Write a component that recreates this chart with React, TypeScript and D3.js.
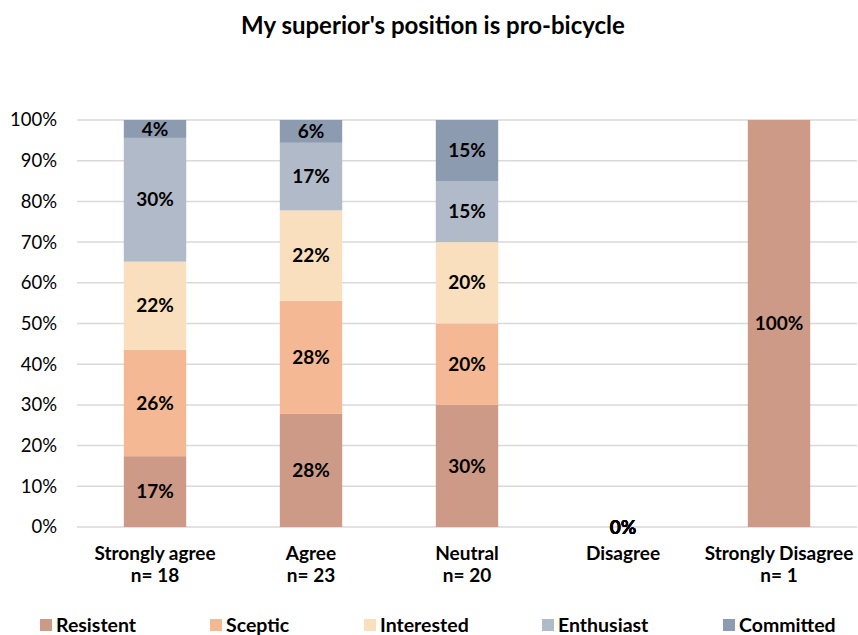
import { useEffect, useRef } from "react";
import * as d3 from "d3";

const categories = ["Strongly agree", "Agree", "Neutral", "Disagree", "Strongly Disagree"];
const counts = ["n= 18", "n= 23", "n= 20", "", "n= 1"];
const seriesNames = ["Resistent", "Sceptic", "Interested", "Enthusiast", "Committed"];
const colors = ["#CD9A87", "#F4B994", "#F9DFBE", "#B1BAC8", "#8D9BB1"];

// share per category (fraction 0..1), one array per series
const resistent = [0.174, 0.278, 0.3, 0, 1];
const sceptic = [0.261, 0.278, 0.2, 0, 0];
const interested = [0.217, 0.222, 0.2, 0, 0];
const enthusiast = [0.304, 0.166, 0.15, 0, 0];
const committed = [0.044, 0.056, 0.15, 0, 0];
const yTicks = [0, 0.1, 0.2, 0.3, 0.4, 0.5, 0.6, 0.7, 0.8, 0.9, 1];

const FONT = "Lato, 'Open Sans', sans-serif";

const App = () => {
  const svgRef = useRef<SVGSVGElement | null>(null);

  useEffect(() => {
    const w = 858;
    const h = 635;
    const m = { top: 120, right: 1, bottom: 108, left: 77 };

    const svg = d3.select(svgRef.current).attr("width", w).attr("height", h);
    svg.selectAll("*").remove();

    const rows = categories.map((c, i) => ({
      cat: c,
      Resistent: resistent[i],
      Sceptic: sceptic[i],
      Interested: interested[i],
      Enthusiast: enthusiast[i],
      Committed: committed[i],
    }));
    const stacked = d3.stack<any>().keys(seriesNames)(rows);

    const x = d3
      .scaleBand()
      .domain(categories)
      .range([m.left, w - m.right])
      .paddingInner(0.6)
      .paddingOuter(0.3);
    const y = d3.scaleLinear().domain([0, 1]).range([h - m.bottom, m.top]);

    // title
    svg
      .append("text")
      .attr("x", 433)
      .attr("y", 34)
      .attr("text-anchor", "middle")
      .style("font-family", FONT)
      .style("font-weight", "bold")
      .style("font-size", "24px")
      .text("My superior's position is pro-bicycle");

    // grid + y labels
    const grid = svg.append("g");
    grid
      .selectAll("line")
      .data(yTicks)
      .join("line")
      .attr("x1", m.left)
      .attr("x2", w - m.right)
      .attr("y1", (d) => y(d))
      .attr("y2", (d) => y(d))
      .attr("stroke", "#D9D9D9")
      .attr("stroke-width", 1.5);
    grid
      .selectAll("text")
      .data(yTicks)
      .join("text")
      .attr("x", 57)
      .attr("y", (d) => y(d))
      .attr("dy", "0.35em")
      .attr("text-anchor", "end")
      .style("font-family", FONT)
      .style("font-size", "18.5px")
      .attr("fill", "#000")
      .text((d) => d3.format(".0%")(d));

    // bars
    svg
      .append("g")
      .selectAll("g")
      .data(stacked)
      .join("g")
      .attr("fill", (_d, i) => colors[i])
      .selectAll("rect")
      .data((d) => d)
      .join("rect")
      .attr("x", (d: any) => x(d.data.cat)!)
      .attr("width", x.bandwidth())
      .attr("y", (d) => y(d[1]))
      .attr("height", (d) => y(d[0]) - y(d[1]));

    // data labels
    const labels = svg.append("g");
    stacked.forEach((s) => {
      s.forEach((d: any, i) => {
        const v = d[1] - d[0];
        const total = resistent[i] + sceptic[i] + interested[i] + enthusiast[i] + committed[i];
        if (v <= 0 && total > 0) return;
        labels
          .append("text")
          .attr("x", x(d.data.cat)! + x.bandwidth() / 2)
          .attr("y", y((d[0] + d[1]) / 2))
          .attr("dy", "0.35em")
          .attr("text-anchor", "middle")
          .style("font-family", FONT)
          .style("font-weight", "bold")
          .style("font-size", "19px")
          .attr("fill", "#000")
          .text(d3.format(".0%")(v));
      });
    });

    // category labels
    const xl = svg.append("g");
    categories.forEach((c, i) => {
      const cx = x(c)! + x.bandwidth() / 2;
      const t = xl
        .append("text")
        .attr("x", cx)
        .attr("y", 560)
        .attr("text-anchor", "middle")
        .style("font-family", FONT)
        .style("font-weight", "bold")
        .style("font-size", "19px");
      t.append("tspan").attr("x", cx).text(c);
      if (counts[i]) t.append("tspan").attr("x", cx).attr("dy", 22).text(counts[i]);
    });

    // legend
    const legendX = [40, 210, 364, 542, 723];
    const lg = svg.append("g");
    seriesNames.forEach((n, i) => {
      lg.append("rect")
        .attr("x", legendX[i])
        .attr("y", 619)
        .attr("width", 12)
        .attr("height", 12)
        .attr("fill", colors[i]);
      lg.append("text")
        .attr("x", legendX[i] + 16)
        .attr("y", 632)
        .style("font-family", FONT)
        .style("font-weight", "bold")
        .style("font-size", "19.5px")
        .text(n);
    });
  }, []);

  return <svg ref={svgRef} style={{ position: "absolute", left: 0, top: 0 }}></svg>;
};

export default App;
